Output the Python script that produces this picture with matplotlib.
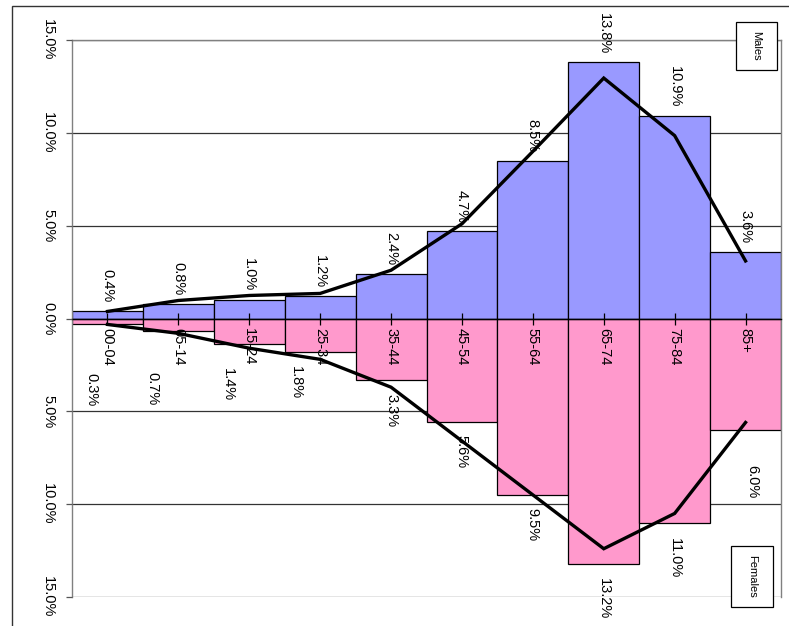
import matplotlib
matplotlib.use("Agg")
import matplotlib.pyplot as plt
from matplotlib.patches import Rectangle
from matplotlib.ticker import FuncFormatter
import numpy as np

plt.rcParams['font.family'] = ['Liberation Sans', 'DejaVu Sans']

# data (percent of population)
age_groups = ['00-04', '05-14', '15-24', '25-34', '35-44', '45-54', '55-64', '65-74', '75-84', '85+']
males = [0.4, 0.8, 1.0, 1.2, 2.4, 4.7, 8.5, 13.8, 10.9, 3.6]
females = [0.3, 0.7, 1.4, 1.8, 3.3, 5.6, 9.5, 13.2, 11.0, 6.0]
males_line = [0.38, 0.97, 1.24, 1.35, 2.6, 5.1, 9.0, 12.95, 9.85, 3.1]
females_line = [0.32, 0.8, 1.6, 2.2, 3.7, 6.6, 9.5, 12.4, 10.5, 5.6]
yticks = [-15, -10, -5, 0, 5, 10, 15]

# label placement tweaks (style only)
fem_pad = [2.63, 2.2, 1.24, 0.75, 0.75, 0.7, 0.7, 0.8, 0.8, 1.9]
fem_dx = [-0.22, -0.37, -0.3, -0.34, 0, 0, 0, 0, 0, 0.1]

W, H = 789, 626
fig = plt.figure(figsize=(W / 100, H / 100), dpi=100)
ax = fig.add_axes([72 / W, 1 - 597 / H, (781 - 72) / W, (597 - 40) / H])

x = np.arange(len(age_groups))
for t in yticks:
    ax.axhline(t, color='#333333', linewidth=0.9, zorder=0)
ax.bar(x, males, width=1.0, color='#9999FF', edgecolor='black', linewidth=0.9, zorder=1)
ax.bar(x, [-v for v in females], width=1.0, color='#FF99CC', edgecolor='black', linewidth=0.9, zorder=1)
ax.plot(x, males_line, color='black', linewidth=2.4, zorder=6, solid_joinstyle='miter')
ax.plot(x, [-v for v in females_line], color='black', linewidth=2.4, zorder=6, solid_joinstyle='miter')

for i, v in enumerate(males):
    ax.text(x[i], v + 0.45, '%.1f%%' % v, rotation=270, ha='center', va='bottom', fontsize=10.5, zorder=4)
for i, v in enumerate(females):
    ax.text(x[i] + fem_dx[i], -(v + fem_pad[i]), '%.1f%%' % v, rotation=270, ha='center', va='top',
            fontsize=10.5, zorder=4)
for i, lab in enumerate(age_groups):
    ax.annotate(lab, (x[i], 0), xytext=(0, -7), textcoords='offset points', rotation=270,
                ha='center', va='top', fontsize=10.5, zorder=4)

ax.set_axisbelow(False)
ax.spines['bottom'].set_position(('data', 0))
ax.spines['bottom'].set_linewidth(1.0)
for s in ['left', 'right', 'top']:
    ax.spines[s].set_color('#808080')
    ax.spines[s].set_linewidth(1.0)

ax.set_xlim(-0.5, len(age_groups) - 0.5)
ax.set_ylim(-15, 15)
ax.set_yticks(yticks)
ax.yaxis.set_major_formatter(FuncFormatter(lambda v, p: '%.1f%%' % abs(v)))
for lab in ax.get_yticklabels():
    lab.set_rotation(270)
    lab.set_va('center')
    lab.set_fontsize(10.5)
ax.tick_params(axis='y', length=4, width=0.9, color='#555555', pad=8)

ax.set_xticks(x)
ax.set_xticklabels([])
ax.tick_params(axis='x', direction='inout', length=9, width=0.9)

# outer chart frame (right and bottom edges fall outside the image)
fig.add_artist(Rectangle((12 / W, -0.2), 1.2, 1 - 6 / H + 0.2, transform=fig.transFigure,
                         fill=False, edgecolor='#333333', linewidth=1.0))

# legend boxes
def box(x0, y0, x1, y1, txt):
    fig.add_artist(Rectangle((x0 / W, 1 - y1 / H), (x1 - x0) / W, (y1 - y0) / H,
                             transform=fig.transFigure, facecolor='white', edgecolor='black',
                             linewidth=0.9, zorder=10))
    fig.text((x0 + x1) / 2 / W, 1 - (y0 + y1) / 2 / H, txt, rotation=270, ha='center', va='center',
             fontsize=8, zorder=11)

box(736, 22, 777, 70, 'Males')
box(731, 546, 773, 607, 'Females')

fig.savefig('out.png', dpi=100)
